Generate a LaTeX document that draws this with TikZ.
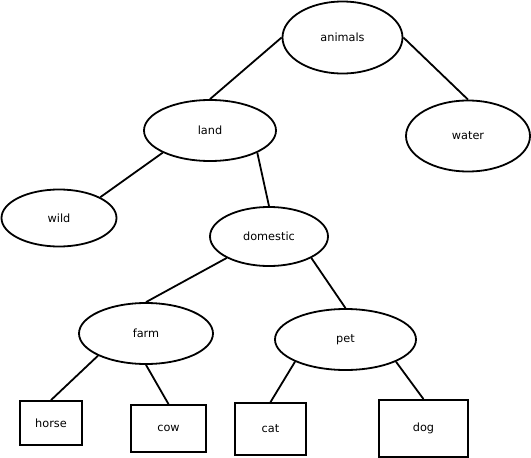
\documentclass[tikz,border=0pt]{standalone}
\usepackage{fontspec}
\setmainfont{DejaVu Sans}
\usetikzlibrary{shapes.geometric}

\begin{document}
\begin{tikzpicture}[x=1pt, y=-1pt, line width=1.8pt, font=\fontsize{11.3}{13}\selectfont]
	\tikzset{
		group/.style={draw, ellipse, inner sep=0pt},
		leaf/.style={draw, rectangle, inner sep=0pt}
	}
	\useasboundingbox (0,0) rectangle (531,458);
	
	%groups
	\node[group, minimum width=120, minimum height=72] (animals) at (342.5,37.5) {animals};
	\node[group, minimum width=124, minimum height=71] (water) at (468,136) {water};
	\node[group, minimum width=132, minimum height=61] (land) at (210,130.5) {land};
	\node[group, minimum width=115, minimum height=57] (wild) at (59,218) {wild};
	\node[group, minimum width=118, minimum height=59] (domestic) at (269,236.5) {domestic};
	\node[group, minimum width=134, minimum height=61] (farm) at (146,333.5) {farm};
	\node[group, minimum width=141, minimum height=61] (pet) at (345.5,339.5) {pet};
	
	%leaves
	\node[leaf, minimum width=62, minimum height=44] (horse) at (51,423) {horse};
	\node[leaf, minimum width=75, minimum height=47] (cow) at (168.5,428.5) {cow};
	\node[leaf, minimum width=71, minimum height=52] (cat) at (270.5,429) {cat};
	\node[leaf, minimum width=89, minimum height=57] (dog) at (423.5,428.5) {dog};
	
	%edges
	\draw (animals.west) -- (land.north);
	\draw (animals.east) -- (water.north);
	\draw (land.south west) -- (wild.north east);
	\draw (land.south east) -- (domestic.north);
	\draw (domestic.south west) -- (farm.north);
	\draw (domestic.south east) -- (pet.north);
	\draw (farm.south west) -- (horse.north);
	\draw (farm.south) -- (cow.north);
	\draw (pet.south west) -- (cat.north);
	\draw (pet.south east) -- (dog.north);
\end{tikzpicture}
\end{document}
